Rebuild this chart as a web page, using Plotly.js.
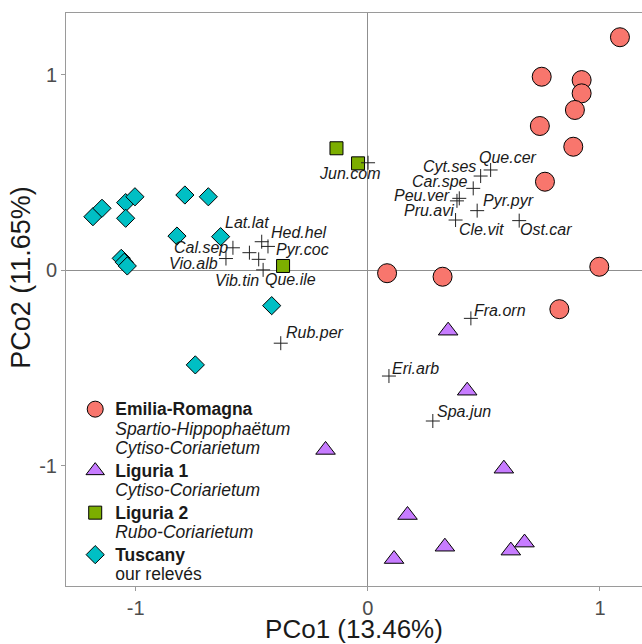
<!DOCTYPE html>
<html>
<head>
<meta charset="utf-8">
<script src="https://cdn.plot.ly/plotly-3.0.1.min.js"></script>
<style>html,body{margin:0;padding:0;background:#fff;}</style>
</head>
<body>
<div id="chart" style="width:642px;height:644px;"></div>
<script>
// ---- Data ----
const emiliaX = [1.086, 0.749, 0.921, 0.921, 0.892, 0.741, 0.885, 0.763, 0.997, 0.083, 0.322, 0.825];
const emiliaY = [1.193, 0.991, 0.974, 0.906, 0.821, 0.739, 0.633, 0.454, 0.019, -0.014, -0.032, -0.198];

const liguria1X = [0.346, 0.428, 0.586, 0.171, 0.332, 0.113, 0.616, 0.675, -0.182];
const liguria1Y = [-0.308, -0.615, -1.014, -1.251, -1.413, -1.476, -1.433, -1.392, -0.918];

const liguria2X = [-0.135, -0.042, -0.365];
const liguria2Y = [0.625, 0.548, 0.023];

const tuscanyX = [-1.184, -1.145, -1.043, -1.003, -1.043, -0.788, -0.687, -0.822, -0.634, -1.062, -1.049, -1.036, -0.414, -0.743];
const tuscanyY = [0.275, 0.318, 0.347, 0.377, 0.267, 0.386, 0.377, 0.176, 0.173, 0.062, 0.042, 0.023, -0.180, -0.483];

const speciesNames = ["Que.cer", "Cyt.ses", "Car.spe", "Peu.ver", "Pru.avi", "Pyr.pyr", "Cle.vit", "Ost.car",
  "Jun.com", "Lat.lat", "Hed.hel", "Pyr.coc", "Cal.sep", "Vio.alb", "Vib.tin", "Que.ile",
  "Rub.per", "Fra.orn", "Eri.arb", "Spa.jun"];
const speciesX = [0.529, 0.486, 0.454, 0.394, 0.384, 0.471, 0.378, 0.652,
  0.001, -0.510, -0.457, -0.430, -0.581, -0.611, -0.470, -0.451,
  -0.375, 0.444, 0.091, 0.280];
const speciesY = [0.514, 0.483, 0.420, 0.369, 0.356, 0.306, 0.258, 0.255,
  0.551, 0.091, 0.147, 0.123, 0.116, 0.061, 0.057, 0.003,
  -0.372, -0.245, -0.540, -0.770];

// legend lines: [bold group name, description lines...]
const groupLines = [
  ["Emilia-Romagna", "Spartio-Hippophaëtum", "Cytiso-Coriarietum"],
  ["Liguria 1", "Cytiso-Coriarietum"],
  ["Liguria 2", "Rubo-Coriarietum"],
  ["Tuscany", "our relevés"]
];
const descItalic = [true, true, true, false];
const xTitle = "PCo1 (13.46%)";
const yTitle = "PCo2 (11.65%)";
const tickVals = [-1, 0, 1];
const tickText = ["-1", "0", "1"];

// ---- Label placement (pixel offsets of each species label from its point) ----
const labelDX = [17, -31, -33, -37, -28, 31, 26, 27, -19, -2, 37, 35, -32, -32, -22, 27, 34, 29, 27, 31];
const labelDY = [-12, -10, -7, -3, 10, -10, 9, 9, 11, -30, -9, 3, 0, 5, 21, 10, -11, -8, -8, -10];

const FONT = "Liberation Sans, Arial, Helvetica, sans-serif";
const outline = {color: "#000000", width: 1};

function legendName(i) {
  const sp = '<span style="font-size:17.5px">';
  const lines = groupLines[i];
  const parts = [sp + "<b>" + lines[0] + "</b></span>"];
  for (let k = 1; k < lines.length; k++) {
    parts.push(sp + (descItalic[i] ? "<i>" + lines[k] + "</i>" : lines[k]) + "</span>");
  }
  return parts.join("<br>");
}

const traces = [
  {x: emiliaX, y: emiliaY, name: legendName(0), type: "scatter", mode: "markers",
   marker: {symbol: "circle", size: 19, color: "#F8766D", line: outline}},
  {x: liguria1X, y: liguria1Y, name: legendName(1), type: "scatter", mode: "markers",
   marker: {symbol: "triangle-up", size: 17, color: "#C77CFF", line: outline}},
  {x: liguria2X, y: liguria2Y, name: legendName(2), type: "scatter", mode: "markers",
   marker: {symbol: "square", size: 13, color: "#7CAE00", line: outline}},
  {x: tuscanyX, y: tuscanyY, name: legendName(3), type: "scatter", mode: "markers",
   marker: {symbol: "diamond", size: 14, color: "#00BFC4", line: outline}},
  {x: speciesX, y: speciesY, name: "species", type: "scatter", mode: "markers", showlegend: false,
   text: speciesNames, hoverinfo: "text",
   marker: {symbol: "cross-thin", size: 10, color: "#000000", line: {color: "#222222", width: 1}}}
];

const annotations = speciesNames.map((s, i) => ({
  x: speciesX[i], y: speciesY[i], xref: "x", yref: "y",
  text: "<i>" + s + "</i>", showarrow: false,
  xanchor: "center", yanchor: "middle",
  xshift: labelDX[i], yshift: -labelDY[i],
  font: {family: FONT, size: 16, color: "#1a1a1a"}
}));

// y-axis title (placed as in the reference, slightly above the panel centre)
annotations.push({
  xref: "paper", yref: "paper", x: -0.077, y: 0.539,
  text: yTitle, textangle: -90, showarrow: false,
  xanchor: "center", yanchor: "middle",
  font: {family: FONT, size: 27, color: "#1a1a1a"}
});

const axisCommon = {
  showgrid: false, zeroline: true, zerolinecolor: "#8f8f8f", zerolinewidth: 1,
  showline: true, mirror: true, linecolor: "#9a9a9a", linewidth: 1,
  ticks: "outside", ticklen: 4, tickcolor: "#9a9a9a", tickwidth: 1,
  tickvals: tickVals, ticktext: tickText,
  tickfont: {family: FONT, size: 20, color: "#4d4d4d"}
};

const layout = {
  width: 642, height: 644,
  margin: {l: 66, r: 0, t: 13, b: 58},
  paper_bgcolor: "#ffffff", plot_bgcolor: "#ffffff",
  font: {family: FONT},
  xaxis: Object.assign({}, axisCommon, {
    range: [-1.300, 1.181],
    title: {text: xTitle, font: {family: FONT, size: 26, color: "#1a1a1a"}, standoff: 2}
  }),
  yaxis: Object.assign({}, axisCommon, {
    range: [-1.614, 1.317]
  }),
  showlegend: true,
  legend: {
    x: 0.016, y: 0.337, xanchor: "left", yanchor: "top",
    bgcolor: "rgba(0,0,0,0)", borderwidth: 0,
    valign: "top", traceorder: "normal",
    font: {family: FONT, size: 15, color: "#1a1a1a"}
  },
  annotations: annotations
};

Plotly.newPlot("chart", traces, layout, {displayModeBar: false, staticPlot: true});
</script>
</body>
</html>
